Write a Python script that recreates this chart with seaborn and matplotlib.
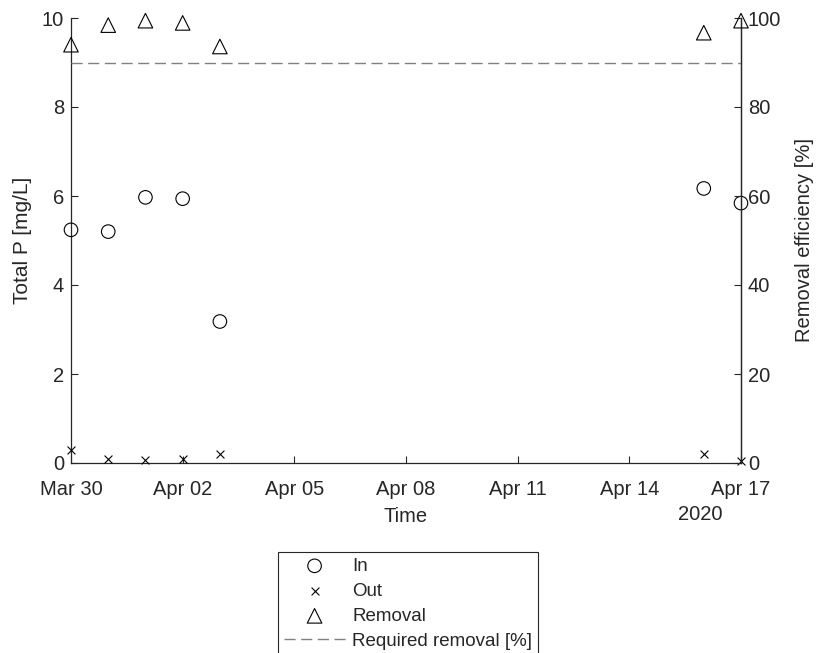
import matplotlib
matplotlib.use("Agg")
import matplotlib.pyplot as plt
import matplotlib.dates as mdates
import seaborn as sns
import pandas as pd

dates = pd.to_datetime(["2020-03-30", "2020-03-31", "2020-04-01", "2020-04-02",
                        "2020-04-03", "2020-04-16", "2020-04-17"])
p_in = [5.24, 5.20, 5.97, 5.94, 3.18, 6.17, 5.84]
p_out = [0.30, 0.08, 0.06, 0.08, 0.20, 0.20, 0.05]
removal = [94.0, 98.4, 99.4, 98.9, 93.6, 96.7, 99.4]
required = 90
tick_dates = pd.date_range("2020-03-30", "2020-04-17", freq="3D")

sns.set_style("white")
plt.rcParams["font.family"] = ["Liberation Sans", "DejaVu Sans"]
AX = "#262626"

fig = plt.figure(figsize=(8.17, 6.53), dpi=100)
ax = fig.add_axes([71 / 817, 1 - 463 / 653, 670 / 817, 445 / 653])
ax2 = ax.twinx()

sns.scatterplot(x=dates, y=p_in, ax=ax, marker="o", s=95, facecolor="none",
                edgecolor="black", linewidth=0.8, clip_on=False, label="In", zorder=3)
sns.scatterplot(x=dates, y=p_out, ax=ax, marker="x", s=32, color="black",
                linewidth=0.8, clip_on=False, label="Out", zorder=3)
sns.scatterplot(x=dates, y=removal, ax=ax2, marker="^", s=110, facecolor="none",
                edgecolor="black", linewidth=0.8, clip_on=False, label="Removal", zorder=3)
ax2.axhline(required, color="#808080", linewidth=1.0,
            linestyle=(0, (8, 4)), label="Required removal [%]")

for a in (ax, ax2):
    if a.get_legend() is not None:
        a.get_legend().remove()

ax.set_xlim(pd.Timestamp("2020-03-30"), pd.Timestamp("2020-04-17"))
ax.set_ylim(0, 10)
ax2.set_ylim(0, 100)
ax.set_yticks([0, 2, 4, 6, 8, 10])
ax2.set_yticks([0, 20, 40, 60, 80, 100])
ax.set_xticks(tick_dates)
ax.xaxis.set_major_formatter(mdates.DateFormatter("%b %d"))

fs = 14.5
ax.set_xlabel("Time", fontsize=fs, color=AX, labelpad=6)
ax.set_ylabel("Total P [mg/L]", fontsize=15, color=AX, labelpad=7)
ax2.set_ylabel("Removal efficiency [%]", fontsize=fs, color=AX, labelpad=10)

for a in (ax, ax2):
    a.tick_params(direction="in", length=5, width=0.8, colors=AX, labelsize=fs, pad=5)
    for s in a.spines.values():
        s.set_color(AX)
        s.set_linewidth(0.9)
    a.spines["top"].set_visible(False)
ax.tick_params(axis="y", left=True, right=False)
ax.tick_params(axis="x", bottom=True, top=False, pad=12)
ax2.tick_params(axis="y", right=True, left=False)
ax2.spines["left"].set_visible(False)
ax2.spines["bottom"].set_visible(False)

fig.text(700 / 817, 1 - 515 / 653, "2020", fontsize=fs, color=AX, ha="center", va="center")

h1, l1 = ax.get_legend_handles_labels()
h2, l2 = ax2.get_legend_handles_labels()
leg = fig.legend(h1 + h2, l1 + l2, loc="upper left",
                 bbox_to_anchor=(278 / 817, 1 - 552 / 653), borderaxespad=0,
                 fontsize=13.5, frameon=True, fancybox=False, edgecolor=AX,
                 framealpha=1, borderpad=0.3, handlelength=3.3,
                 handletextpad=0.35, labelspacing=0.42, scatterpoints=1)
leg.get_frame().set_linewidth(0.8)
for t in leg.get_texts():
    t.set_color(AX)

fig.savefig("out.png", dpi=100)
